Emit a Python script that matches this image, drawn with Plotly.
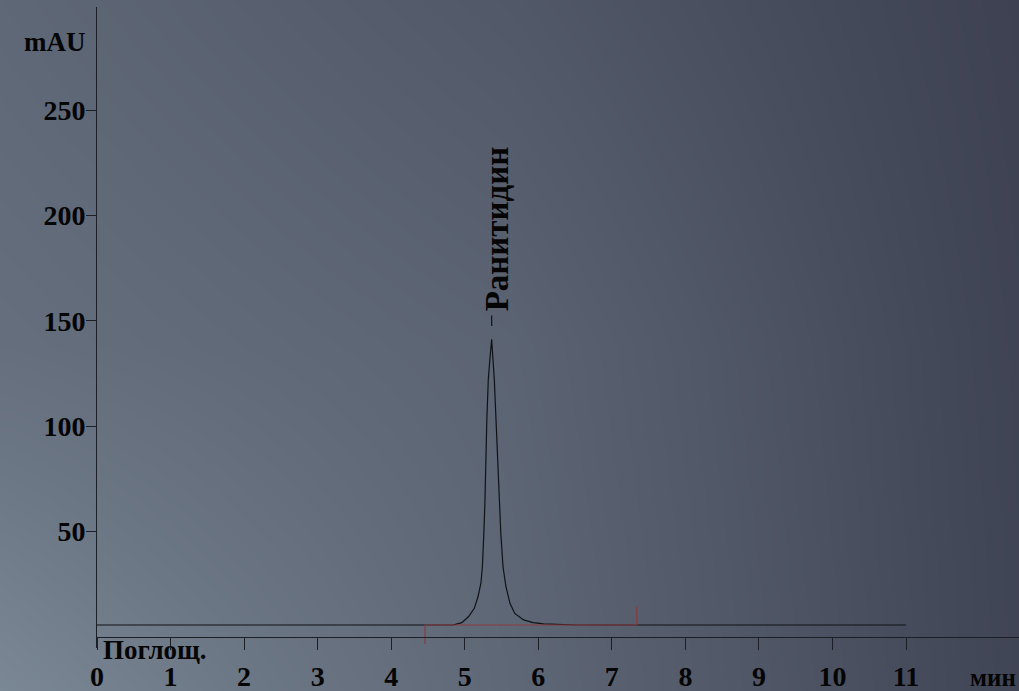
import plotly.graph_objects as go

# Chromatogram: retention time (min) and absorbance (mAU)
time_min = [0.0, 4.84, 4.96, 5.05, 5.13, 5.18, 5.22, 5.24, 5.26, 5.275, 5.30, 5.32, 5.34,
            5.366, 5.385, 5.402, 5.425, 5.47, 5.49, 5.52, 5.56, 5.615, 5.68, 5.80, 5.93,
            6.07, 6.30, 6.52, 11.0]
absorbance = [5.7, 5.7, 6.8, 9.6, 13.6, 19.1, 25.5, 33.3, 49.3, 65.0, 103.0, 122.0, 131.0,
              141.2, 131.0, 122.0, 103.0, 65.0, 49.3, 33.3, 23.9, 16.0, 11.2, 8.1, 6.8,
              6.2, 6.0, 5.7, 5.7]

# Integration baseline of the peak
integ_start, integ_end = 4.46, 7.34
integ_level = 5.7

peak_name = "Ранитидин"
peak_rt = 5.366

x_ticks = list(range(0, 12))
y_ticks = [50, 100, 150, 200, 250]

W, H = 1019, 691
FONT = "Liberation Serif"
AX = "#1c1f26"

fig = go.Figure()

# Background shading across the whole canvas
fig.add_trace(go.Heatmap(
    x=[0, 0.5, 1], y=[0, 0.5, 1],
    z=[[1.0, 0.55, 0.05],
       [0.65, 0.50, 0.03],
       [0.55, 0.33, 0.0]],
    colorscale=[[0, "#3d4152"], [1, "#7a8794"]],
    zmin=0, zmax=1, zsmooth="best", showscale=False, hoverinfo="skip",
    xaxis="x", yaxis="y",
))

# Signal
fig.add_trace(go.Scatter(
    x=time_min, y=absorbance, mode="lines",
    line=dict(color="#101216", width=1.2),
    xaxis="x2", yaxis="y2", showlegend=False,
))

# Integration baseline with start/end markers
fig.add_trace(go.Scatter(
    x=[integ_start, integ_start, None, integ_start, integ_end, None, integ_end, integ_end],
    y=[integ_level - 9.0, integ_level, None, integ_level, integ_level, None,
       integ_level, integ_level + 9.0],
    mode="lines", line=dict(color="#8a3a40", width=1.2),
    xaxis="x2", yaxis="y2", showlegend=False,
))

# Peak label leader
fig.add_trace(go.Scatter(
    x=[peak_rt, peak_rt], y=[147.5, 152.5], mode="lines",
    line=dict(color="#101216", width=1.2),
    xaxis="x2", yaxis="y2", showlegend=False,
))

x_left = 97
px_per_min = 73.55
px_per_mau = 2.108
y_zero_px = 637
y_bottom_px = 648
y_top_px = 7

x_range = [0, (W - x_left) / px_per_min]
y_range = [-(y_bottom_px - y_zero_px) / px_per_mau, (y_zero_px - y_top_px) / px_per_mau]

tick_font = dict(family=FONT, size=28, color="#050505", weight="bold")

fig.update_layout(
    width=W, height=H,
    margin=dict(l=0, r=0, t=0, b=0, pad=0, autoexpand=False),
    paper_bgcolor="#5a6070",
    plot_bgcolor="rgba(0,0,0,0)",
    showlegend=False,
    xaxis=dict(domain=[0, 1], range=[0, 1], visible=False, fixedrange=True,
               automargin=False),
    yaxis=dict(domain=[0, 1], range=[0, 1], visible=False, fixedrange=True,
               automargin=False),
    xaxis2=dict(
        domain=[x_left / W, 1], range=x_range, anchor="free",
        position=(H - y_zero_px) / H, automargin=False,
        showline=True, linecolor=AX, linewidth=1,
        ticks="outside", ticklen=12, tickcolor=AX, tickwidth=1,
        tickvals=x_ticks, ticktext=[str(v) for v in x_ticks],
        tickfont=tick_font, ticklabelstandoff=2,
        showgrid=False, zeroline=False,
    ),
    yaxis2=dict(
        domain=[(H - y_bottom_px) / H, (H - y_top_px) / H], range=y_range,
        anchor="x2", automargin=False,
        showline=True, linecolor=AX, linewidth=1,
        ticks="outside", ticklen=10, tickcolor=AX, tickwidth=1,
        tickvals=y_ticks, ticktext=[str(v) for v in y_ticks],
        tickfont=tick_font, ticklabelstandoff=-5,
        showgrid=False, zeroline=False,
    ),
)

label_font = dict(family=FONT, size=27, color="#050505", weight="bold")

fig.add_annotation(x=54.5 / W, y=1 - 42 / H, xref="paper", yref="paper",
                   text="mAU", showarrow=False, font=label_font,
                   xanchor="center", yanchor="middle")
fig.add_annotation(x=155 / W, y=1 - 650 / H, xref="paper", yref="paper",
                   text="Поглощ.", showarrow=False, font=label_font,
                   xanchor="center", yanchor="middle")
fig.add_annotation(x=993 / W, y=1 - 677 / H, xref="paper", yref="paper",
                   text="мин", showarrow=False,
                   font=dict(family=FONT, size=25, color="#050505", weight="bold"),
                   xanchor="center", yanchor="middle")
fig.add_annotation(x=5.45, y=193.8, xref="x2", yref="y2",
                   text=peak_name, textangle=-90, showarrow=False,
                   font=dict(family=FONT, size=33, color="#050505", weight="bold"),
                   xanchor="center", yanchor="middle")

fig.write_html("out.html")
